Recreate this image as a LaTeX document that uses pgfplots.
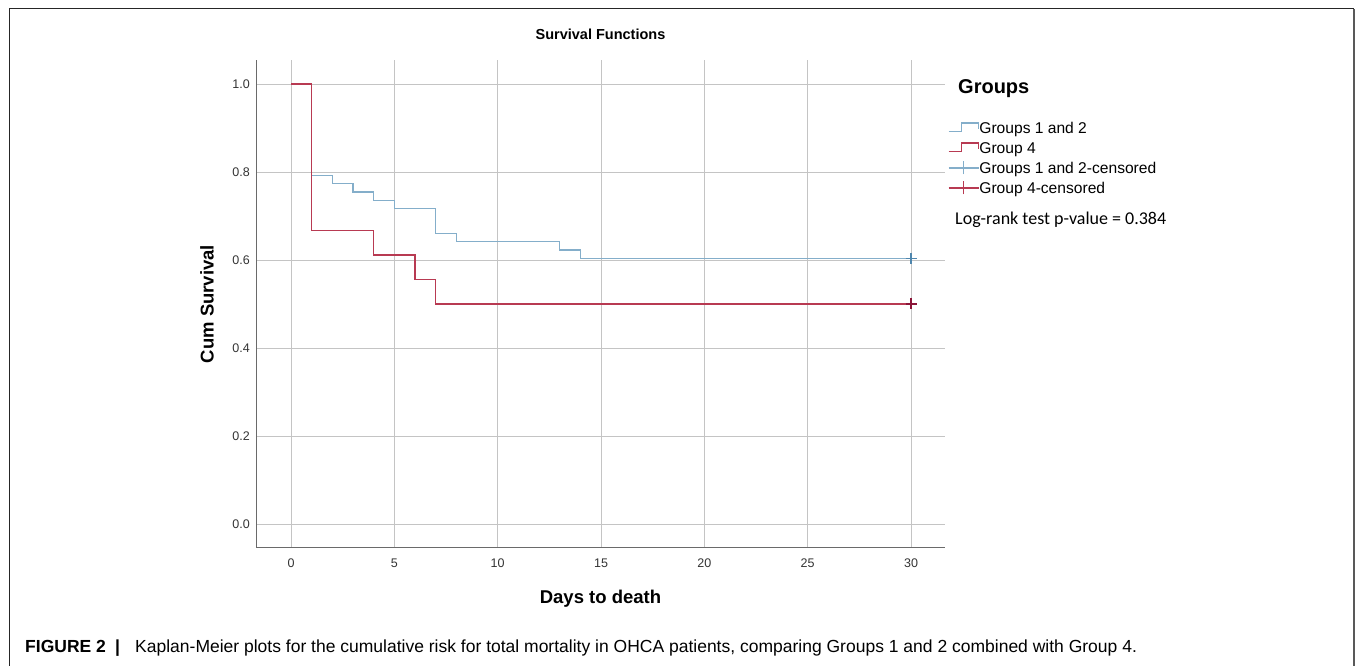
\documentclass[border=0pt]{standalone}
\usepackage{fontspec}
\setmainfont{Liberation Sans}
\newfontfamily\carlito{Carlito}
\usepackage{pgfplots}
\pgfplotsset{compat=1.18}
\definecolor{kmblue}{HTML}{84AECA}
\definecolor{kmred}{HTML}{B83A52}
\definecolor{kmbluedark}{HTML}{4F86AD}
\definecolor{kmreddark}{HTML}{8B1538}
\definecolor{gridc}{HTML}{C4C4C4}
\definecolor{axisc}{HTML}{6A6A6A}
\begin{document}
\begin{tikzpicture}[x=1pt,y=1pt]
\path[use as bounding box] (0,0) rectangle (1355,666);
\draw[black!85, line width=1pt] (9,0) -- (9,657) -- (1354,657);
\draw[black!65, line width=1.5pt] (1354,657) -- (1354,0);
\begin{axis}[
  at={(256pt,118pt)}, anchor=south west,
  scale only axis, width=689pt, height=488pt,
  xmin=-1.694, xmax=31.645, ymin=-0.0545, ymax=1.0545,
  axis x line*=bottom, axis y line*=left,
  axis line style={axisc, line width=1pt, -},
  xtick={0,5,10,15,20,25,30},
  ytick={0,0.2,0.4,0.6,0.8,1},
  yticklabels={0.0,0.2,0.4,0.6,0.8,1.0},
  grid=major, major grid style={gridc, line width=0.9pt},
  major tick length=0pt,
  tick label style={font=\fontsize{12.5}{14}\selectfont, color=black!80},
  /pgf/number format/assume math mode=true,
  xticklabel style={anchor=center, inner sep=0pt, yshift=-15pt},
  yticklabel style={anchor=east, inner sep=0pt, xshift=-6pt},
  title={Survival Functions},
  title style={font=\bfseries\fontsize{14.5}{16}\selectfont, at={(axis description cs:0.5,1.041)}, anchor=center, inner sep=0pt},
  xlabel={Days to death},
  xlabel style={font=\bfseries\fontsize{18.5}{20}\selectfont, at={(axis description cs:0.5,-0.1045)}, anchor=center, inner sep=0pt},
  ylabel={Cum Survival},
  ylabel style={font=\bfseries\fontsize{18.5}{20}\selectfont, at={(axis description cs:-0.0711,0.5)}, anchor=center, inner sep=0pt, rotate=0},
  legend style={at={(axis description cs:1.00435,0.88115)}, anchor=north west, draw=none, fill=none,
    inner sep=0pt, outer sep=0pt, font=\fontsize{15.6}{17}\selectfont, row sep=0pt,
    nodes={inner xsep=0pt, inner ysep=0pt, text height=15.6pt, text depth=4.4pt},
    /tikz/every even column/.append style={column sep=4pt}},
  legend cell align=left,
]
\addplot[kmblue, line width=1.4pt, const plot,
  legend image code/.code={\draw[kmblue, line width=1.4pt] (0pt,-3.3pt) -- (13pt,-3.3pt) -- (13pt,5pt) -- (30pt,5pt) -- (30pt,-1pt);}]
  coordinates {(0,1) (1,0.7925) (2,0.7736) (3,0.7547) (4,0.7358) (5,0.7170) (7,0.6604) (8,0.6415) (13,0.6226) (14,0.6038) (30,0.6038)};
\addlegendentry{Groups 1 and 2}
\addplot[kmred, line width=1.4pt, const plot,
  legend image code/.code={\draw[kmred, line width=1.4pt] (0pt,-3.3pt) -- (13pt,-3.3pt) -- (13pt,5pt) -- (30pt,5pt) -- (30pt,-1pt);}]
  coordinates {(0,1) (1,0.6667) (4,0.6111) (6,0.5556) (7,0.5) (30,0.5)};
\addlegendentry{Group 4}
\addplot[only marks, mark=+, mark size=5.5pt, color=kmbluedark, mark options={line width=1.5pt},
  legend image code/.code={\draw[kmblue, line width=1.4pt] (0pt,0pt) -- (30pt,0pt); \draw[kmblue, line width=1.4pt] (15pt,-6.5pt) -- (15pt,6.5pt);}]
  coordinates {(30,0.6038)};
\addlegendentry{Groups 1 and 2-censored}
\addplot[only marks, mark=+, mark size=5.5pt, color=kmreddark, mark options={line width=1.5pt},
  legend image code/.code={\draw[kmred, line width=1.4pt] (0pt,0pt) -- (30pt,0pt); \draw[kmred, line width=1.4pt] (15pt,-6.5pt) -- (15pt,6.5pt);}]
  coordinates {(30,0.5)};
\addlegendentry{Group 4-censored}
\end{axis}
\node[anchor=base west, inner sep=0pt, font=\bfseries\fontsize{20}{22}\selectfont] at (958,572.8) {Groups};
\node[anchor=base west, inner sep=0pt, font=\carlito\fontsize{18}{20}\selectfont] at (955,441) {Log-rank test p-value = 0.384};
\node[anchor=base west, inner sep=0pt, font=\bfseries\fontsize{17.5}{19}\selectfont] at (25,13) {FIGURE 2};
\node[anchor=base west, inner sep=0pt, font=\fontsize{17.5}{19}\selectfont] at (115,13) {\textbf{|}};
\node[anchor=base west, inner sep=0pt, font=\fontsize{17.5}{19}\selectfont] at (135,13) {Kaplan-Meier plots for the cumulative risk for total mortality in OHCA patients, comparing Groups 1 and 2 combined with Group 4.};
\end{tikzpicture}
\end{document}
